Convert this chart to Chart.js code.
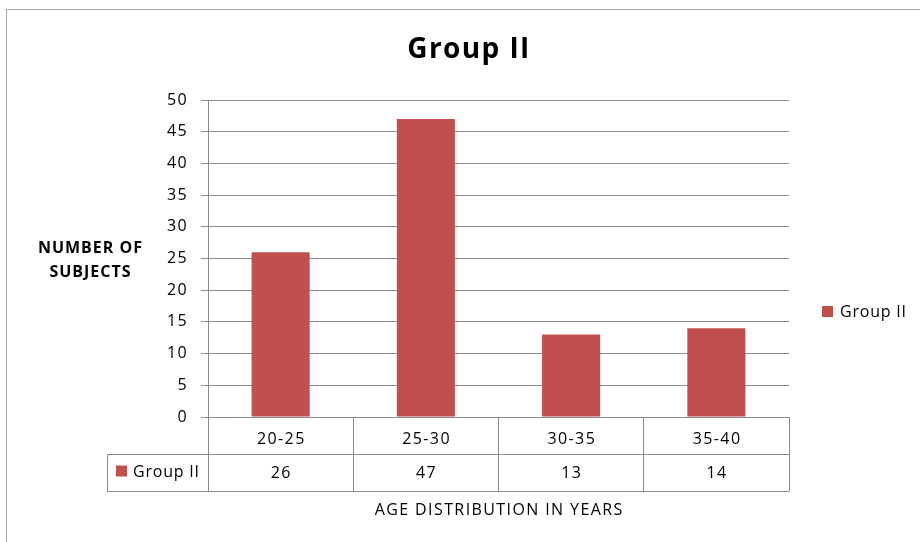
<!DOCTYPE html>
<html><head><meta charset="utf-8">
<script src="https://cdn.jsdelivr.net/npm/chart.js@4"></script>
<style>html,body{margin:0;padding:0;background:#fff}#wrap{width:920px;height:542px}</style>
</head><body><div id="wrap"><canvas id="c" width="920" height="542"></canvas></div>
<script>
const chartTitle = 'Group II';
const categories = ['20-25', '25-30', '30-35', '35-40'];
const seriesName = 'Group II';
const seriesValues = [26, 47, 13, 14];
const yMin = 0, yMax = 50, yStep = 5;
const xAxisTitle = 'AGE DISTRIBUTION IN YEARS';
const yAxisTitleLines = ['NUMBER OF', 'SUBJECTS'];

const FONT = '"Open Sans", sans-serif';
const GRID = '#8c8c8c';
const BAR = '#C0504D';
const ROW = 37;

function centered(ctx, text, cx, y) {
  const w = ctx.measureText(text).width;
  const ls = parseFloat(ctx.letterSpacing) || 0;
  ctx.textAlign = 'left';
  ctx.fillText(text, cx - (w - ls) / 2, y);
}

const extras = {
  id: 'extras',
  beforeDraw(chart) {
    chart.ctx.letterSpacing = '1.4px';
  },
  afterDraw(chart) {
    const ctx = chart.ctx;
    const x = chart.scales.x;
    const top = x.top;
    const leftCol = 107;
    ctx.save();
    ctx.textBaseline = 'alphabetic';
    // outer frame
    ctx.strokeStyle = '#a6a6a6'; ctx.lineWidth = 1;
    ctx.strokeRect(6.5, 9.5, 1000, 1000);
    // title
    ctx.fillStyle = '#000';
    ctx.letterSpacing = '1.4px';
    ctx.font = 'bold 28px ' + FONT;
    centered(ctx, chartTitle, 469, 58);
    // y title
    ctx.letterSpacing = '1px';
    ctx.font = 'bold 16px ' + FONT;
    centered(ctx, yAxisTitleLines[0], 90, 253);
    centered(ctx, yAxisTitleLines[1], 90, 277);
    // legend
    ctx.letterSpacing = '0.8px';
    ctx.fillStyle = BAR;
    ctx.fillRect(822, 306, 11, 11);
    ctx.fillStyle = '#000';
    ctx.textAlign = 'left';
    ctx.font = '16px ' + FONT;
    ctx.fillText(seriesName, 840, 317);
    // table lines
    ctx.strokeStyle = GRID;
    ctx.beginPath();
    const r1 = Math.round(top + ROW) + 0.5, r2 = Math.round(top + 2 * ROW) + 0.5;
    ctx.moveTo(leftCol, r1); ctx.lineTo(x.right, r1);
    ctx.moveTo(leftCol, r2); ctx.lineTo(x.right, r2);
    ctx.moveTo(leftCol + 0.5, r1); ctx.lineTo(leftCol + 0.5, r2);
    ctx.stroke();
    // table text
    ctx.fillStyle = '#000';
    ctx.letterSpacing = '1.4px';
    ctx.font = '16px ' + FONT;
    categories.forEach((c, i) => {
      const cx = x.getPixelForValue(i);
      centered(ctx, c, cx, top + ROW - 10);
      centered(ctx, String(seriesValues[i]), cx, top + 2 * ROW - 13);
    });
    ctx.fillStyle = BAR;
    ctx.fillRect(116, r1 + 11, 11, 11);
    ctx.fillStyle = '#000';
    ctx.letterSpacing = '0.8px';
    ctx.textAlign = 'left';
    ctx.fillText(seriesName, 133, top + 2 * ROW - 14);
    // x title
    ctx.letterSpacing = '1.4px';
    centered(ctx, xAxisTitle, (x.left + x.right) / 2, 515);
    ctx.restore();
  }
};

new Chart(document.getElementById('c'), {
  type: 'bar',
  data: {
    labels: categories,
    datasets: [{
      label: seriesName,
      data: seriesValues,
      backgroundColor: BAR,
      borderWidth: 0,
      barPercentage: 0.4,
      categoryPercentage: 1.0
    }]
  },
  options: {
    responsive: false,
    devicePixelRatio: 1,
    animation: false,
    layout: { padding: { left: 0, top: 100, right: 131, bottom: 0 } },
    plugins: { legend: { display: false }, title: { display: false }, tooltip: { enabled: false } },
    scales: {
      x: {
        offset: true,
        grid: { display: true, offset: true, drawOnChartArea: false, drawTicks: true, tickLength: 2 * ROW, color: GRID },
        border: { display: true, color: GRID },
        ticks: { display: false },
        afterFit: s => { s.height = 542 - 417; }
      },
      y: {
        min: yMin, max: yMax,
        ticks: { stepSize: yStep, padding: 13, color: '#000', font: { family: FONT, size: 16 } },
        grid: { color: GRID, tickLength: 7 },
        border: { color: GRID },
        afterFit: s => { s.width = 208; }
      }
    }
  },
  plugins: [extras]
});
</script>
</body></html>
